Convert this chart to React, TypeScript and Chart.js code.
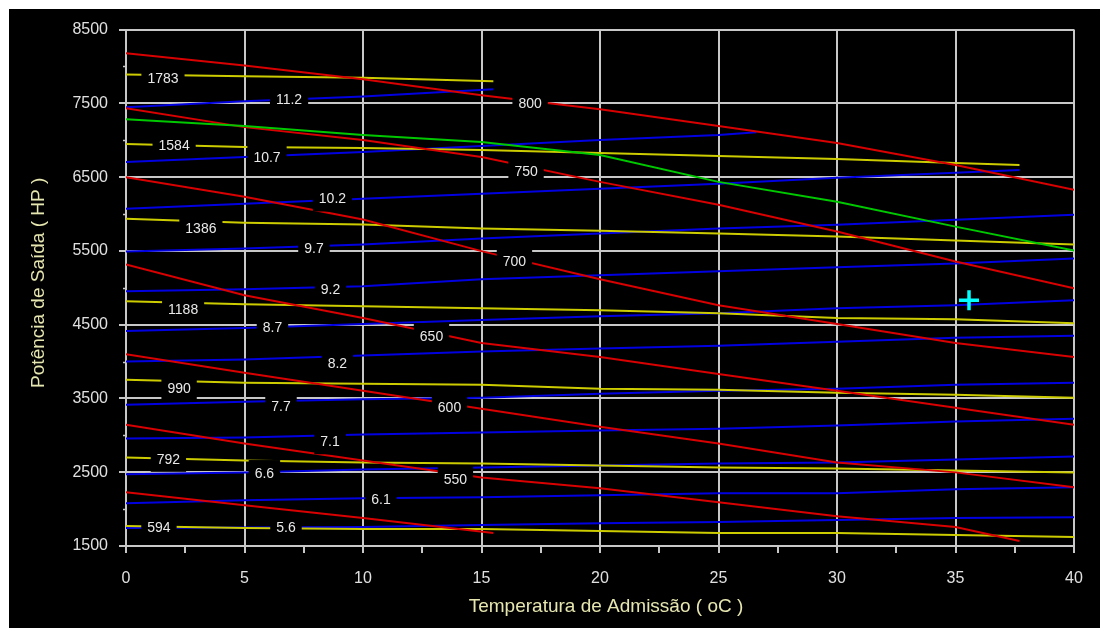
import { useEffect, useRef } from 'react';
import { Chart, registerables } from 'chart.js';

Chart.register(...registerables);

const FONT = '"Liberation Sans", Arial, Helvetica, sans-serif';
const GRID = '#C8C8C8';
const TICK_TEXT = '#E0E0E0';
const TITLE_TEXT = '#E6E6B0';
const LABEL_TEXT = '#E8E8E8';
const RED = '#D80000';
const BLUE = '#0000E0';
const YELLOW = '#CCCC00';
const GREEN = '#00C800';
const CYAN = '#00FFFF';

// Inlet temperature stations (°C)
const tempX = [0, 5, 10, 15, 20, 25, 30, 35, 40];
const tempToShort = [0, 5, 10, 15.5];
const tempTo266 = [0, 5, 10, 15, 20, 25, 26.6];
const tempTo377 = [0, 5, 10, 15, 20, 25, 30, 35, 37.7];

// Exhaust temperature isolines (output power, HP)
const iso800 = [8180, 8014, 7826, 7610, 7421, 7192, 6962, 6666, 6328];
const iso750 = [7435, 7178, 7003, 6773, 6436, 6126, 5762, 5357, 4993];
const iso700 = [6500, 6234, 5925, 5497, 5115, 4764, 4508, 4251, 4062];
const iso650 = [5317, 4899, 4590, 4251, 4062, 3833, 3604, 3375, 3145];
const iso600 = [4100, 3847, 3604, 3361, 3118, 2889, 2633, 2498, 2296];
const iso550 = [3145, 2889, 2660, 2430, 2282, 2093, 1904, 1756, 1567];
const iso500 = [2228, 2053, 1878, 1675];

// Rated limit curve
const limitCurve = [7286, 7192, 7070, 6976, 6800, 6436, 6166, 5829, 5506];

// Fuel flow isolines
const flow1783 = [7893, 7866, 7848, 7799];
const flow1584 = [6949, 6908, 6895, 6868, 6827, 6787, 6747, 6693, 6666];
const flow1386 = [5937, 5883, 5857, 5803, 5775, 5735, 5694, 5640, 5587];
const flow1188 = [4818, 4777, 4750, 4724, 4697, 4656, 4589, 4575, 4521];
const flow990 = [3753, 3712, 3698, 3685, 3631, 3617, 3577, 3550, 3510];
const flow792 = [2700, 2660, 2633, 2619, 2592, 2565, 2552, 2525, 2498];
const flow594 = [1770, 1743, 1729, 1729, 1702, 1675, 1675, 1648, 1621];

// Pressure ratio isolines
const pr112 = [7448, 7529, 7592, 7690];
const pr107 = [6706, 6773, 6841, 6922, 7003, 7070, 7110];
const pr102 = [6072, 6140, 6207, 6275, 6342, 6409, 6491, 6558, 6598];
const pr97 = [5492, 5533, 5587, 5668, 5735, 5803, 5856, 5924, 5991];
const pr92 = [4953, 4980, 5020, 5115, 5169, 5223, 5277, 5330, 5398];
const pr87 = [4413, 4454, 4508, 4562, 4616, 4656, 4724, 4764, 4831];
const pr82 = [4000, 4027, 4081, 4135, 4176, 4216, 4270, 4324, 4351];
const pr77 = [3415, 3456, 3490, 3510, 3564, 3604, 3631, 3685, 3712];
const pr71 = [2956, 2970, 3010, 3037, 3064, 3091, 3132, 3186, 3226];
const pr66 = [2471, 2498, 2538, 2565, 2592, 2619, 2633, 2673, 2714];
const pr61 = [2080, 2120, 2147, 2161, 2188, 2215, 2215, 2269, 2296];
const pr56 = [1743, 1750, 1757, 1783, 1810, 1824, 1851, 1878, 1891];

// Current operating point
const opTemp = [35.57];
const opPower = [4831];

// Isoline labels: text and anchor (temperature, power)
const labelText = [
  '1783', '11.2', '800', '1584', '10.7', '750', '10.2', '1386', '9.7', '700',
  '9.2', '1188', '8.7', '650', '8.2', '990', '7.7', '600', '7.1', '792',
  '6.6', '550', '6.1', '594', '5.6',
];
const labelTemp = [
  1.56, 6.88, 17.05, 2.03, 5.95, 16.88, 8.71, 3.16, 7.93, 16.39,
  8.63, 2.41, 6.18, 12.89, 8.92, 2.24, 6.54, 13.65, 8.61, 1.79,
  5.84, 13.9, 10.76, 1.39, 6.75,
];
const labelPower = [
  7846, 7556, 7509, 6935, 6774, 6578, 6211, 5807, 5537, 5357,
  4984, 4706, 4467, 4346, 3972, 3640, 3393, 3388, 2920, 2682,
  2489, 2412, 2130, 1752, 1752,
];

// Axis tick labels
const powerTicks = ['1500', '2500', '3500', '4500', '5500', '6500', '7500', '8500'];
const tempTicks = ['0', '5', '10', '15', '20', '25', '30', '35', '40'];

const X_TITLE = 'Temperatura de Admissão ( oC )';
const Y_TITLE = 'Potência de Saída ( HP )';

function pts(xs: number[], ys: number[]) {
  return xs.map((x, i) => ({ x, y: ys[i] }));
}

function line(xs: number[], ys: number[], color: string) {
  return {
    data: pts(xs, ys),
    borderColor: color,
    backgroundColor: color,
    borderWidth: 2,
    pointRadius: 0,
    showLine: true,
    fill: false,
    tension: 0,
  };
}

const isoLabelPlugin = {
  id: 'isoLabels',
  afterDatasetsDraw(chart: any) {
    const { ctx, scales } = chart;
    const xs = scales.x;
    const ys = scales.y;
    ctx.save();
    ctx.font = `14px ${FONT}`;
    ctx.textAlign = 'center';
    ctx.textBaseline = 'middle';
    labelText.forEach((t, i) => {
      const px = xs.getPixelForValue(labelTemp[i]);
      const py = ys.getPixelForValue(labelPower[i]);
      const w = ctx.measureText(t).width + 12;
      const h = 26;
      ctx.fillStyle = '#000000';
      ctx.fillRect(px - w / 2, py - h / 2, w, h);
      ctx.fillStyle = LABEL_TEXT;
      ctx.fillText(t, px, py + 1);
    });
    ctx.restore();
  },
  afterDraw(chart: any) {
    const { ctx, chartArea, scales } = chart;
    const ys = scales.y;
    ctx.save();
    // short minor ticks on the power axis
    ctx.strokeStyle = GRID;
    ctx.lineWidth = 1.5;
    for (let v = 2000; v <= 8000; v += 1000) {
      const py = Math.round(ys.getPixelForValue(v)) + 0.5;
      ctx.beginPath();
      ctx.moveTo(chartArea.left - 3, py);
      ctx.lineTo(chartArea.left, py);
      ctx.stroke();
    }
    // axis titles
    ctx.fillStyle = TITLE_TEXT;
    ctx.font = `19px ${FONT}`;
    ctx.textAlign = 'center';
    ctx.textBaseline = 'middle';
    ctx.fillText(X_TITLE, (chartArea.left + chartArea.right) / 2 + 6, chartArea.bottom + 61);
    ctx.translate(chartArea.left - 87, (chartArea.top + chartArea.bottom) / 2 - 5);
    ctx.rotate(-Math.PI / 2);
    ctx.fillText(Y_TITLE, 0, 0);
    ctx.restore();
  },
};

export default function App() {
  const canvasRef = useRef<HTMLCanvasElement | null>(null);

  useEffect(() => {
    const canvas = canvasRef.current;
    if (!canvas) return;

    const datasets: any[] = [
      {
        data: pts(opTemp, opPower),
        borderColor: CYAN,
        backgroundColor: CYAN,
        pointStyle: 'cross',
        pointRadius: 10,
        borderWidth: 3.5,
        showLine: false,
      },
      line(tempX, limitCurve, GREEN),
      line(tempX, iso800, RED),
      line(tempX, iso750, RED),
      line(tempX, iso700, RED),
      line(tempX, iso650, RED),
      line(tempX, iso600, RED),
      line(tempTo377, iso550, RED),
      line(tempToShort, iso500, RED),
      line(tempToShort, flow1783, YELLOW),
      line(tempTo377, flow1584, YELLOW),
      line(tempX, flow1386, YELLOW),
      line(tempX, flow1188, YELLOW),
      line(tempX, flow990, YELLOW),
      line(tempX, flow792, YELLOW),
      line(tempX, flow594, YELLOW),
      line(tempToShort, pr112, BLUE),
      line(tempTo266, pr107, BLUE),
      line(tempTo377, pr102, BLUE),
      line(tempX, pr97, BLUE),
      line(tempX, pr92, BLUE),
      line(tempX, pr87, BLUE),
      line(tempX, pr82, BLUE),
      line(tempX, pr77, BLUE),
      line(tempX, pr71, BLUE),
      line(tempX, pr66, BLUE),
      line(tempX, pr61, BLUE),
      line(tempX, pr56, BLUE),
    ];

    const chart = new Chart(canvas, {
      type: 'scatter',
      data: { datasets },
      options: {
        animation: false,
        responsive: false,
        devicePixelRatio: 1,
        layout: { padding: { top: 18, right: 26, left: 0, bottom: 0 } },
        plugins: {
          legend: { display: false },
          tooltip: { enabled: false },
        },
        scales: {
          x: {
            type: 'linear',
            min: 0,
            max: 40,
            afterFit: (s: any) => {
              s.height = 82;
            },
            ticks: {
              stepSize: 2.5,
              autoSkip: false,
              maxRotation: 0,
              padding: 16,
              color: TICK_TEXT,
              font: { family: FONT, size: 16 },
              callback: (v: any) => {
                const s = String(v);
                return tempTicks.includes(s) ? s : '';
              },
            },
            grid: {
              color: (c: any) =>
                c.tick && tempTicks.includes(String(c.tick.value)) ? GRID : 'rgba(0,0,0,0)',
              tickColor: GRID,
              tickLength: 7,
              lineWidth: 2,
            },
            border: { color: GRID, width: 2 },
          },
          y: {
            type: 'linear',
            min: 1500,
            max: 8500,
            afterFit: (s: any) => {
              s.width = 117;
            },
            ticks: {
              stepSize: 500,
              autoSkip: false,
              padding: 11,
              color: TICK_TEXT,
              font: { family: FONT, size: 16 },
              callback: (v: any) => {
                const s = String(v);
                return powerTicks.includes(s) ? s : '';
              },
            },
            grid: {
              color: (c: any) =>
                c.tick && powerTicks.includes(String(c.tick.value)) ? GRID : 'rgba(0,0,0,0)',
              tickColor: (c: any) =>
                c.tick && powerTicks.includes(String(c.tick.value)) ? GRID : 'rgba(0,0,0,0)',
              tickLength: 7,
              lineWidth: 2,
            },
            border: { color: GRID, width: 2 },
          },
        },
      } as any,
      plugins: [isoLabelPlugin],
    });

    return () => chart.destroy();
  }, []);

  return (
    <div
      style={{
        position: 'absolute',
        left: 9,
        top: 9,
        width: 1091,
        height: 619,
        background: '#000000',
      }}
    >
      <canvas ref={canvasRef} width={1091} height={619} style={{ display: 'block' }} />
    </div>
  );
}
